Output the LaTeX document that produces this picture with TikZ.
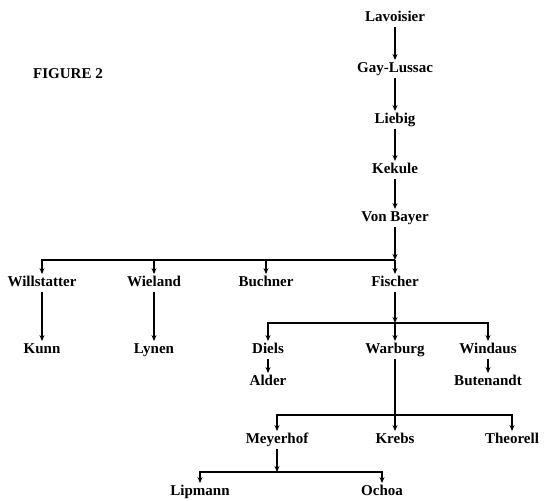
\documentclass[tikz,border=0pt]{standalone}
\usepackage{fontspec}
\setmainfont{Liberation Serif}
\usetikzlibrary{arrows.meta}

\tikzstyle{chemist} = [font=\bfseries\fontsize{15}{17}\selectfont, inner sep=2pt, text height=10.5pt, text depth=3pt]
\tikzstyle{arr} = [-{Stealth[length=6pt,width=5pt]}, line width=1.1pt]

\begin{document}
\begin{tikzpicture}[x=1pt, y=-1pt]
\useasboundingbox (0,0) rectangle (545,500);

\node (fig) [chemist] at (68,75) {FIGURE 2};

\node (lav) [chemist] at (395,18) {Lavoisier};
\node (gay) [chemist] at (395,69) {Gay-Lussac};
\node (lie) [chemist] at (395,120) {Liebig};
\node (kek) [chemist] at (395,170) {Kekule};
\node (bay) [chemist] at (395,218) {Von Bayer};

\node (wil) [chemist] at (42,283) {Willstatter};
\node (wie) [chemist] at (154,283) {Wieland};
\node (buc) [chemist] at (266,283) {Buchner};
\node (fis) [chemist] at (395,283) {Fischer};

\node (kun) [chemist] at (42,350) {Kunn};
\node (lyn) [chemist] at (154,350) {Lynen};
\node (die) [chemist] at (268,350) {Diels};
\node (war) [chemist] at (395,350) {Warburg};
\node (win) [chemist] at (488,350) {Windaus};

\node (ald) [chemist] at (268,382) {Alder};
\node (but) [chemist] at (488,382) {Butenandt};

\node (mey) [chemist] at (277,440) {Meyerhof};
\node (kre) [chemist] at (395,440) {Krebs};
\node (the) [chemist] at (512,440) {Theorell};

\node (lip) [chemist] at (200,492) {Lipmann};
\node (och) [chemist] at (382,492) {Ochoa};

\coordinate (j1) at (395,260);
\coordinate (j2) at (395,323);
\coordinate (j3) at (395,415);
\coordinate (j4) at (277,472);

\draw [arr] (lav) -- (gay);
\draw [arr] (gay) -- (lie);
\draw [arr] (lie) -- (kek);
\draw [arr] (kek) -- (bay);

\draw [arr] (bay) -- (j1);
\draw [arr] (j1) -| (wil);
\draw [arr] (j1) -| (wie);
\draw [arr] (j1) -| (buc);
\draw [arr] (j1) -- (fis);

\draw [arr] (wil) -- (kun);
\draw [arr] (wie) -- (lyn);

\draw [arr] (fis) -- (j2);
\draw [arr] (j2) -| (die);
\draw [arr] (j2) -- (war);
\draw [arr] (j2) -| (win);

\draw [arr] (die) -- (ald);
\draw [arr] (win) -- (but);

\draw [arr] (war) -- (kre);
\draw [arr] (j3) -| (mey);
\draw [arr] (j3) -| (the);

\draw [arr] (mey) -- (j4);
\draw [arr] (j4) -| (lip);
\draw [arr] (j4) -| (och);
\end{tikzpicture}
\end{document}
